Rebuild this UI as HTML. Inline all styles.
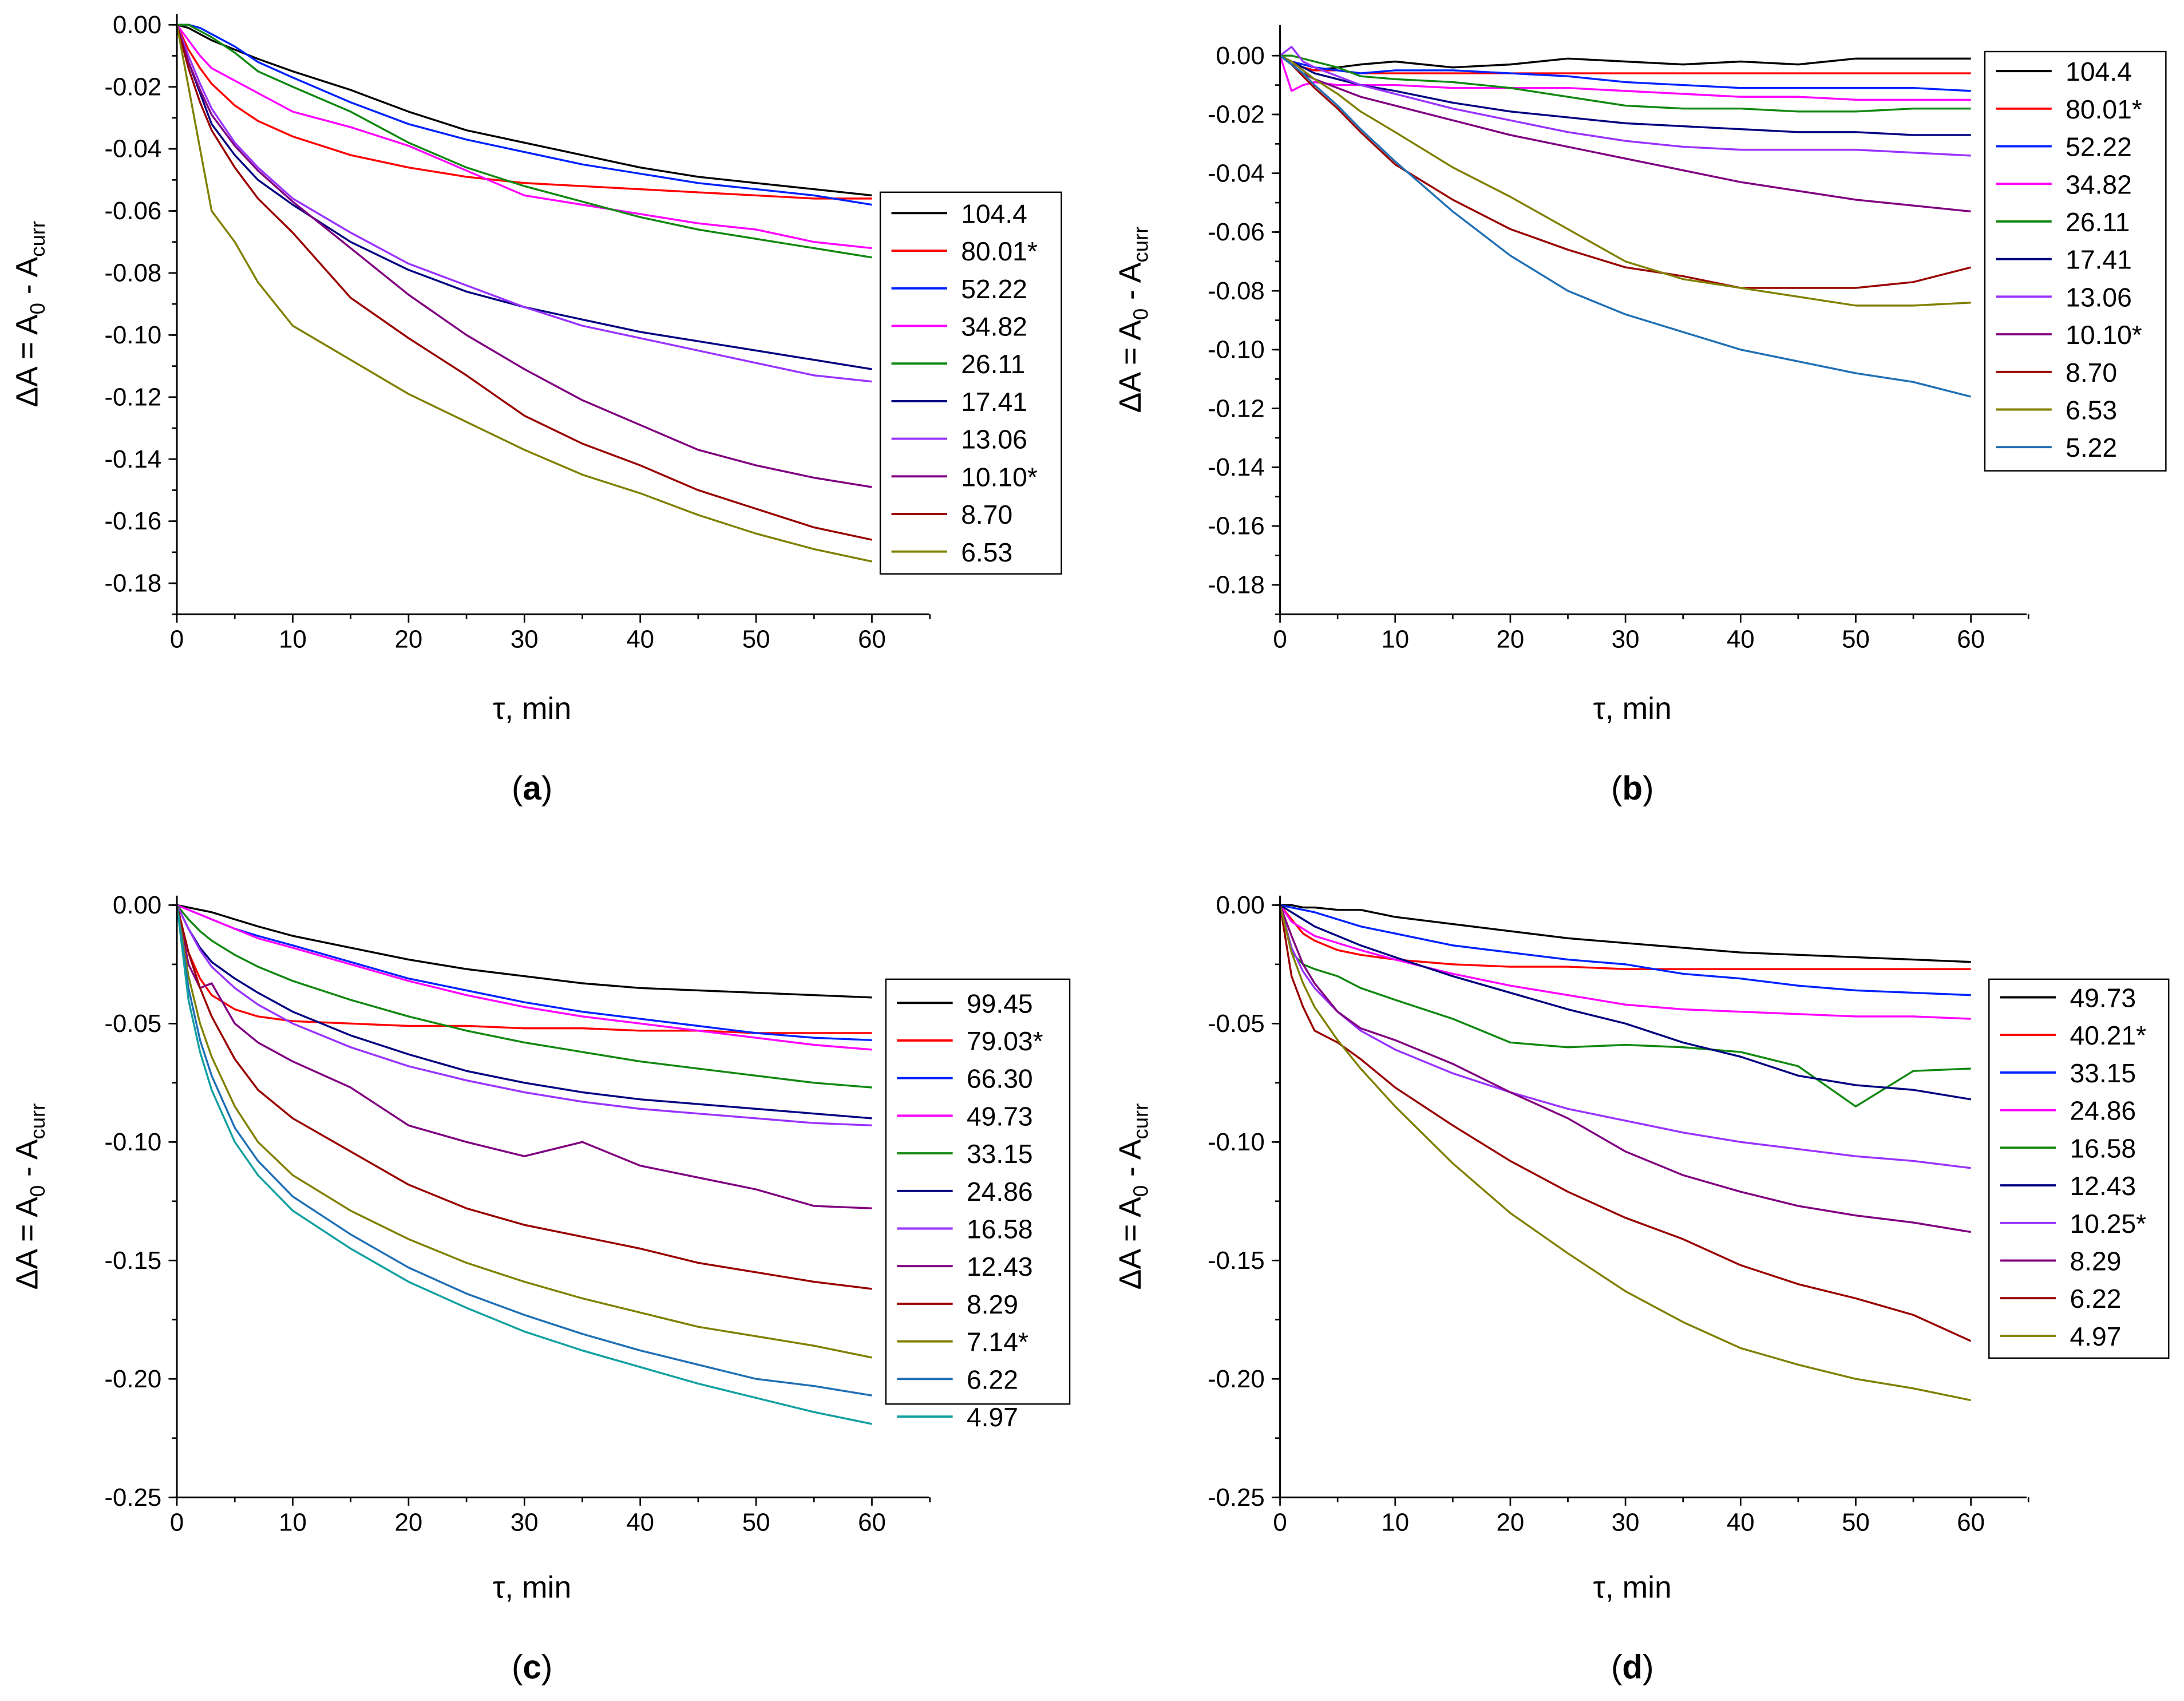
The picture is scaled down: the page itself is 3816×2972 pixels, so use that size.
<!DOCTYPE html>
<html><head><meta charset="utf-8">
<style>
html,body{margin:0;padding:0;background:#fff;}
svg{display:block;}
text{font-family:"Liberation Sans",sans-serif;}
</style></head>
<body>
<svg id="fig" width="3816" height="2972" viewBox="0 0 1568 1221.2" preserveAspectRatio="none" xmlns="http://www.w3.org/2000/svg"></svg>
<script>
const times = [0,1,2,3,5,7,10,15,20,25,30,35,40,45,50,55,60];

const labelsA = ["104.4","80.01*","52.22","34.82","26.11","17.41","13.06","10.10*","8.70","6.53"];
const colorsA = ["#000","#f00","#0022ff","#ff00ff","#118811","#000080","#9933ff","#800080","#990000","#808000"];
const a104 = [0,-0.001,-0.003,-0.005,-0.008,-0.011,-0.015,-0.021,-0.028,-0.034,-0.038,-0.042,-0.046,-0.049,-0.051,-0.053,-0.055];
const a80 = [0,-0.008,-0.014,-0.019,-0.026,-0.031,-0.036,-0.042,-0.046,-0.049,-0.051,-0.052,-0.053,-0.054,-0.055,-0.056,-0.056];
const a52 = [0,0,-0.001,-0.003,-0.007,-0.012,-0.017,-0.025,-0.032,-0.037,-0.041,-0.045,-0.048,-0.051,-0.053,-0.055,-0.058];
const a34 = [0,-0.005,-0.01,-0.014,-0.018,-0.022,-0.028,-0.033,-0.039,-0.047,-0.055,-0.058,-0.061,-0.064,-0.066,-0.07,-0.072];
const a26 = [0,0,-0.002,-0.004,-0.009,-0.015,-0.02,-0.028,-0.038,-0.046,-0.052,-0.057,-0.062,-0.066,-0.069,-0.072,-0.075];
const a17 = [0,-0.012,-0.022,-0.032,-0.042,-0.05,-0.058,-0.07,-0.079,-0.086,-0.091,-0.095,-0.099,-0.102,-0.105,-0.108,-0.111];
const a13 = [0,-0.01,-0.019,-0.027,-0.038,-0.046,-0.056,-0.067,-0.077,-0.084,-0.091,-0.097,-0.101,-0.105,-0.109,-0.113,-0.115];
const a10 = [0,-0.012,-0.021,-0.029,-0.039,-0.047,-0.057,-0.072,-0.087,-0.1,-0.111,-0.121,-0.129,-0.137,-0.142,-0.146,-0.149];
const a870 = [0,-0.014,-0.025,-0.034,-0.046,-0.056,-0.067,-0.088,-0.101,-0.113,-0.126,-0.135,-0.142,-0.15,-0.156,-0.162,-0.166];
const a653 = [0,-0.02,-0.04,-0.06,-0.07,-0.083,-0.097,-0.108,-0.119,-0.128,-0.137,-0.145,-0.151,-0.158,-0.164,-0.169,-0.173];

const labelsB = ["104.4","80.01*","52.22","34.82","26.11","17.41","13.06","10.10*","8.70","6.53","5.22"];
const colorsB = ["#000","#f00","#0022ff","#ff00ff","#118811","#000080","#9933ff","#800080","#990000","#808000","#1f6fb4"];
const b104 = [0,-0.002,-0.004,-0.005,-0.004,-0.003,-0.002,-0.004,-0.003,-0.001,-0.002,-0.003,-0.002,-0.003,-0.001,-0.001,-0.001];
const b80 = [0,-0.003,-0.004,-0.005,-0.005,-0.006,-0.006,-0.006,-0.006,-0.006,-0.006,-0.006,-0.006,-0.006,-0.006,-0.006,-0.006];
const b52 = [0,-0.002,-0.003,-0.004,-0.005,-0.006,-0.005,-0.005,-0.006,-0.007,-0.009,-0.01,-0.011,-0.011,-0.011,-0.011,-0.012];
const b34 = [0,-0.012,-0.01,-0.009,-0.01,-0.01,-0.01,-0.011,-0.011,-0.011,-0.012,-0.013,-0.014,-0.014,-0.015,-0.015,-0.015];
const b26 = [0,0,-0.001,-0.002,-0.004,-0.007,-0.008,-0.009,-0.011,-0.014,-0.017,-0.018,-0.018,-0.019,-0.019,-0.018,-0.018];
const b17 = [0,-0.002,-0.004,-0.006,-0.008,-0.01,-0.012,-0.016,-0.019,-0.021,-0.023,-0.024,-0.025,-0.026,-0.026,-0.027,-0.027];
const b13 = [0,0.003,-0.002,-0.004,-0.007,-0.01,-0.013,-0.018,-0.022,-0.026,-0.029,-0.031,-0.032,-0.032,-0.032,-0.033,-0.034];
const b10 = [0,-0.003,-0.006,-0.008,-0.011,-0.014,-0.017,-0.022,-0.027,-0.031,-0.035,-0.039,-0.043,-0.046,-0.049,-0.051,-0.053];
const b870 = [0,-0.003,-0.007,-0.011,-0.018,-0.026,-0.037,-0.049,-0.059,-0.066,-0.072,-0.075,-0.079,-0.079,-0.079,-0.077,-0.072];
const b653 = [0,-0.002,-0.005,-0.008,-0.013,-0.019,-0.026,-0.038,-0.048,-0.059,-0.07,-0.076,-0.079,-0.082,-0.085,-0.085,-0.084];
const b522 = [0,-0.003,-0.006,-0.01,-0.017,-0.025,-0.036,-0.053,-0.068,-0.08,-0.088,-0.094,-0.1,-0.104,-0.108,-0.111,-0.116];

const labelsC = ["99.45","79.03*","66.30","49.73","33.15","24.86","16.58","12.43","8.29","7.14*","6.22","4.97"];
const colorsC = ["#000","#f00","#0022ff","#ff00ff","#118811","#000080","#9933ff","#800080","#990000","#808000","#1f6fb4","#12a0a0"];
const c99 = [0,-0.001,-0.002,-0.003,-0.006,-0.009,-0.013,-0.018,-0.023,-0.027,-0.03,-0.033,-0.035,-0.036,-0.037,-0.038,-0.039];
const c79 = [0,-0.02,-0.031,-0.038,-0.044,-0.047,-0.049,-0.05,-0.051,-0.051,-0.052,-0.052,-0.053,-0.053,-0.054,-0.054,-0.054];
const c66 = [0,-0.002,-0.004,-0.006,-0.01,-0.013,-0.017,-0.024,-0.031,-0.036,-0.041,-0.045,-0.048,-0.051,-0.054,-0.056,-0.057];
const c49 = [0,-0.002,-0.004,-0.006,-0.01,-0.014,-0.018,-0.025,-0.032,-0.038,-0.043,-0.047,-0.05,-0.053,-0.056,-0.059,-0.061];
const c33 = [0,-0.006,-0.011,-0.015,-0.021,-0.026,-0.032,-0.04,-0.047,-0.053,-0.058,-0.062,-0.066,-0.069,-0.072,-0.075,-0.077];
const c24 = [0,-0.01,-0.018,-0.024,-0.031,-0.037,-0.045,-0.055,-0.063,-0.07,-0.075,-0.079,-0.082,-0.084,-0.086,-0.088,-0.09];
const c16 = [0,-0.01,-0.019,-0.026,-0.035,-0.042,-0.05,-0.06,-0.068,-0.074,-0.079,-0.083,-0.086,-0.088,-0.09,-0.092,-0.093];
const c12 = [0,-0.025,-0.035,-0.033,-0.05,-0.058,-0.066,-0.077,-0.093,-0.1,-0.106,-0.1,-0.11,-0.115,-0.12,-0.127,-0.128];
const c8 = [0,-0.02,-0.035,-0.047,-0.065,-0.078,-0.09,-0.104,-0.118,-0.128,-0.135,-0.14,-0.145,-0.151,-0.155,-0.159,-0.162];
const c7 = [0,-0.03,-0.05,-0.064,-0.085,-0.1,-0.114,-0.129,-0.141,-0.151,-0.159,-0.166,-0.172,-0.178,-0.182,-0.186,-0.191];
const c6 = [0,-0.035,-0.057,-0.072,-0.094,-0.108,-0.123,-0.139,-0.153,-0.164,-0.173,-0.181,-0.188,-0.194,-0.2,-0.203,-0.207];
const c4 = [0,-0.04,-0.062,-0.078,-0.1,-0.114,-0.129,-0.145,-0.159,-0.17,-0.18,-0.188,-0.195,-0.202,-0.208,-0.214,-0.219];

const labelsD = ["49.73","40.21*","33.15","24.86","16.58","12.43","10.25*","8.29","6.22","4.97"];
const colorsD = ["#000","#f00","#0022ff","#ff00ff","#118811","#000080","#9933ff","#800080","#990000","#808000"];
const d49 = [0,0,-0.001,-0.001,-0.002,-0.002,-0.005,-0.008,-0.011,-0.014,-0.016,-0.018,-0.02,-0.021,-0.022,-0.023,-0.024];
const d40 = [0,-0.006,-0.012,-0.015,-0.019,-0.021,-0.023,-0.025,-0.026,-0.026,-0.027,-0.027,-0.027,-0.027,-0.027,-0.027,-0.027];
const d33 = [0,-0.001,-0.002,-0.003,-0.006,-0.009,-0.012,-0.017,-0.02,-0.023,-0.025,-0.029,-0.031,-0.034,-0.036,-0.037,-0.038];
const d24 = [0,-0.007,-0.01,-0.013,-0.016,-0.019,-0.023,-0.029,-0.034,-0.038,-0.042,-0.044,-0.045,-0.046,-0.047,-0.047,-0.048];
const d16 = [0,-0.02,-0.025,-0.027,-0.03,-0.035,-0.04,-0.048,-0.058,-0.06,-0.059,-0.06,-0.062,-0.068,-0.085,-0.07,-0.069];
const d12 = [0,-0.003,-0.006,-0.009,-0.013,-0.017,-0.022,-0.03,-0.037,-0.044,-0.05,-0.058,-0.064,-0.072,-0.076,-0.078,-0.082];
const d10 = [0,-0.018,-0.028,-0.035,-0.045,-0.053,-0.061,-0.071,-0.079,-0.086,-0.091,-0.096,-0.1,-0.103,-0.106,-0.108,-0.111];
const d8 = [0,-0.013,-0.025,-0.033,-0.045,-0.052,-0.057,-0.067,-0.079,-0.09,-0.104,-0.114,-0.121,-0.127,-0.131,-0.134,-0.138];
const d6 = [0,-0.03,-0.043,-0.053,-0.058,-0.065,-0.077,-0.093,-0.108,-0.121,-0.132,-0.141,-0.152,-0.16,-0.166,-0.173,-0.184];
const d4 = [0,-0.02,-0.033,-0.043,-0.057,-0.069,-0.085,-0.109,-0.13,-0.147,-0.163,-0.176,-0.187,-0.194,-0.2,-0.204,-0.209];

const xTicks = [0,10,20,30,40,50,60];
const yTicksAB = [0,-0.02,-0.04,-0.06,-0.08,-0.10,-0.12,-0.14,-0.16,-0.18];
const yTicksCD = [0,-0.05,-0.10,-0.15,-0.20,-0.25];

const NS = "http://www.w3.org/2000/svg";
const svg = document.getElementById("fig");
function mk(tag, attrs, parent){
  const e = document.createElementNS(NS, tag);
  for (const k in attrs) e.setAttribute(k, attrs[k]);
  (parent||svg).appendChild(e);
  return e;
}

const panels = [
 {id:"a", x0:127, x60:626, xEnd:667, yTop:10, yBot:441, ymax:0.0035, ymin:-0.19, ticks:yTicksAB, dec:2, minor:0.01,
  series:[a104,a80,a52,a34,a26,a17,a13,a10,a870,a653], labels:labelsA, colors:colorsA,
  leg:{x:632,y:138,w:130,h:274,row0:153}, lab:{x:382,y:516}, cap:{x:382,y:574}},
 {id:"b", x0:919, x60:1415, xEnd:1455, yTop:18, yBot:441, ymax:0.0104, ymin:-0.19, ticks:yTicksAB, dec:2, minor:0.01,
  series:[b104,b80,b52,b34,b26,b17,b13,b10,b870,b653,b522], labels:labelsB, colors:colorsB,
  leg:{x:1425,y:37,w:130,h:301,row0:51}, lab:{x:1172,y:516}, cap:{x:1172,y:574}},
 {id:"c", x0:127, x60:626, xEnd:667, yTop:643, yBot:1075, ymax:0.004, ymin:-0.25, ticks:yTicksCD, dec:2, minor:0.025,
  series:[c99,c79,c66,c49,c33,c24,c16,c12,c8,c7,c6,c4], labels:labelsC, colors:colorsC,
  leg:{x:636,y:703,w:132,h:305,row0:720}, lab:{x:382,y:1147}, cap:{x:382,y:1205}},
 {id:"d", x0:919, x60:1415, xEnd:1455, yTop:643, yBot:1075, ymax:0.004, ymin:-0.25, ticks:yTicksCD, dec:2, minor:0.025,
  series:[d49,d40,d33,d24,d16,d12,d10,d8,d6,d4], labels:labelsD, colors:colorsD,
  leg:{x:1428,y:703,w:129,h:272,row0:716}, lab:{x:1172,y:1147}, cap:{x:1172,y:1205}}
];

panels.forEach(p=>{
  const g = mk("g",{});
  
  
  const xs = v => p.x0 + (p.x60-p.x0)*v/60;
  const ys = v => p.yTop + (p.ymax - v)/(p.ymax - p.ymin)*(p.yBot-p.yTop);
  p.series.forEach((s,i)=>{
    const pts = s.map((v,j)=>xs(times[j]).toFixed(2)+","+ys(v).toFixed(2)).join(" ");
    const pl = mk("polyline",{points:pts, fill:"none", stroke:p.colors[i], "stroke-width":1.4, "stroke-linejoin":"round"}, g);
    
    
  });
  const ax = mk("path",{d:`M${p.x0},${p.yTop}V${p.yBot}H${p.xEnd}`, stroke:"#000", "stroke-width":1.2, fill:"none"}, g);
  
  
  for (let v=0; v<=65; v+=5){
    const major = v%10===0;
    mk("line",{x1:xs(v),x2:xs(v),y1:p.yBot,y2:p.yBot+(major?6:3.5),stroke:"#000","stroke-width":1.1}, g);
  }
  xTicks.forEach(v=>{
    const t = mk("text",{x:xs(v), y:p.yBot+24, "font-size":18, "text-anchor":"middle"}, g);
    t.textContent = v;
    
    
  });
  for (let v=0; v>=p.ymin-1e-9; v-=p.minor){
    mk("line",{x1:p.x0,x2:p.x0-3.5,y1:ys(v),y2:ys(v),stroke:"#000","stroke-width":1.1}, g);
  }
  p.ticks.forEach(v=>{
    mk("line",{x1:p.x0,x2:p.x0-6,y1:ys(v),y2:ys(v),stroke:"#000","stroke-width":1.1}, g);
    const t = mk("text",{x:p.x0-11, y:ys(v)+6, "font-size":18, "text-anchor":"end"}, g);
    t.textContent = v.toFixed(p.dec);
    
    
  });
  const yt = mk("text",{transform:`translate(${p.x0-100},${(p.yTop+p.yBot)/2}) rotate(-90)`, "font-size":22, "text-anchor":"middle"}, g);
  yt.innerHTML = 'ΔA = A<tspan font-size="15" dy="5">0</tspan><tspan dy="-5"> - A</tspan><tspan font-size="15" dy="5">curr</tspan>';
  
  
  const xt = mk("text",{x:p.lab.x, y:p.lab.y, "font-size":22, "text-anchor":"middle"}, g);
  xt.textContent = "τ, min";
  
  
  const cp = mk("text",{x:p.cap.x, y:p.cap.y, "font-size":24, "text-anchor":"middle", "font-family":"Liberation Serif, serif"}, g);
  cp.innerHTML = '(<tspan font-weight="bold">'+p.id+'</tspan>)';
  
  
  const lg = mk("g",{}, g);
  
  
  mk("rect",{x:p.leg.x,y:p.leg.y,width:p.leg.w,height:p.leg.h,fill:"#fff",stroke:"#000","stroke-width":1}, lg);
  p.labels.forEach((l,i)=>{
    const y = p.leg.row0 + 27*i;
    const ln = mk("line",{x1:p.leg.x+8,x2:p.leg.x+48,y1:y,y2:y,stroke:p.colors[i],"stroke-width":1.6}, lg);
    
    
    const t = mk("text",{x:p.leg.x+58, y:y+7, "font-size":19}, lg);
    t.textContent = l;
    
    
  });
});
</script>
</body></html>
